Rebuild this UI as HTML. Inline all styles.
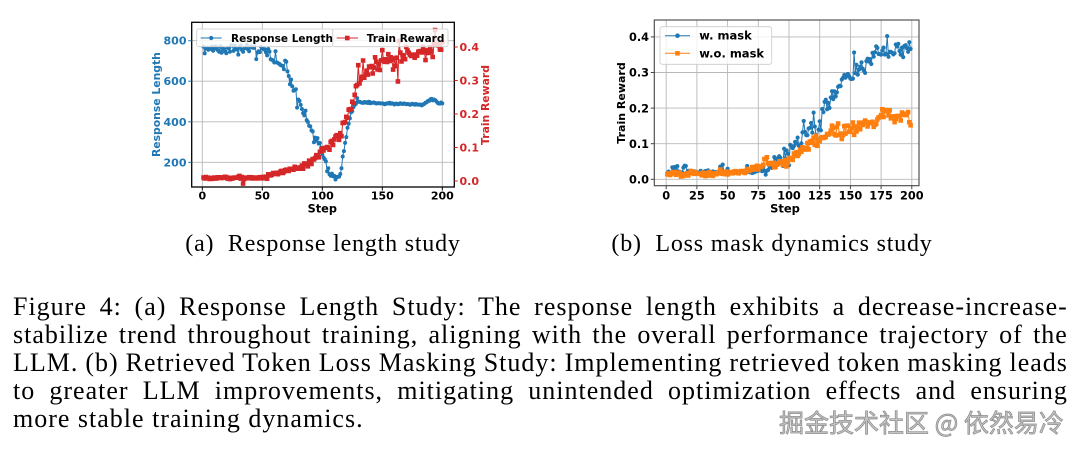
<!DOCTYPE html>
<html><head><meta charset="utf-8">
<style>
html,body{margin:0;padding:0;background:#fff;}
body{width:1080px;height:454px;position:relative;overflow:hidden;}
#c{position:absolute;left:0;top:0;}
.t{font-family:"DejaVu Sans",sans-serif;font-weight:bold;}
#cap{position:absolute;left:13px;top:293.2px;width:1055px;font-family:"Liberation Serif",serif;font-size:26px;line-height:28px;color:#000;letter-spacing:1px;}
#cap div{white-space:nowrap;}
#wm{position:absolute;left:779px;top:407px;font-family:"Noto Sans CJK SC","WenQuanYi Zen Hei",sans-serif;font-size:25px;line-height:30px;color:#c4c4c4;-webkit-text-stroke:0.7px #8a8a8a;white-space:nowrap;}
</style></head>
<body>
<svg id="c" width="1080" height="454" viewBox="0 0 1080 454" xmlns="http://www.w3.org/2000/svg">
<defs>
<clipPath id="cl"><rect x="191.7" y="22.3" width="262.6" height="164.7"/></clipPath>
<clipPath id="cr"><rect x="654.3" y="20" width="264.7" height="165.7"/></clipPath>
</defs>
<!-- LEFT CHART grid -->
<g stroke="#b8b8b8" stroke-width="0.9">
<line x1="202.3" y1="22.3" x2="202.3" y2="187"/>
<line x1="262.3" y1="22.3" x2="262.3" y2="187"/>
<line x1="322.3" y1="22.3" x2="322.3" y2="187"/>
<line x1="382.3" y1="22.3" x2="382.3" y2="187"/>
<line x1="442.3" y1="22.3" x2="442.3" y2="187"/>
<line x1="191.7" y1="40.7" x2="454.3" y2="40.7"/>
<line x1="191.7" y1="81.2" x2="454.3" y2="81.2"/>
<line x1="191.7" y1="121.8" x2="454.3" y2="121.8"/>
<line x1="191.7" y1="162.3" x2="454.3" y2="162.3"/>
</g>
<g id="dL" clip-path="url(#cl)"></g>
<rect x="191.7" y="22.3" width="262.6" height="164.7" fill="none" stroke="#000" stroke-width="1.3"/>
<g stroke="#000" stroke-width="1">
<line x1="202.3" y1="187" x2="202.3" y2="190.5"/><line x1="262.3" y1="187" x2="262.3" y2="190.5"/><line x1="322.3" y1="187" x2="322.3" y2="190.5"/><line x1="382.3" y1="187" x2="382.3" y2="190.5"/><line x1="442.3" y1="187" x2="442.3" y2="190.5"/>
</g>
<g stroke="#1f77b4" stroke-width="1">
<line x1="188.2" y1="40.7" x2="191.7" y2="40.7"/><line x1="188.2" y1="81.2" x2="191.7" y2="81.2"/><line x1="188.2" y1="121.8" x2="191.7" y2="121.8"/><line x1="188.2" y1="162.3" x2="191.7" y2="162.3"/>
</g>
<g stroke="#d62728" stroke-width="1">
<line x1="454.3" y1="181" x2="457.8" y2="181"/><line x1="454.3" y1="147.5" x2="457.8" y2="147.5"/><line x1="454.3" y1="114" x2="457.8" y2="114"/><line x1="454.3" y1="80.5" x2="457.8" y2="80.5"/><line x1="454.3" y1="47" x2="457.8" y2="47"/>
</g>
<g class="t" font-size="11" fill="#1f77b4" text-anchor="end">
<text x="186.5" y="44.7">800</text><text x="186.5" y="85.2">600</text><text x="186.5" y="125.8">400</text><text x="186.5" y="166.3">200</text>
</g>
<g class="t" font-size="11" fill="#d62728" text-anchor="start">
<text x="459.5" y="185">0.0</text><text x="459.5" y="151.5">0.1</text><text x="459.5" y="118">0.2</text><text x="459.5" y="84.5">0.3</text><text x="459.5" y="51">0.4</text>
</g>
<g class="t" font-size="11" fill="#000" text-anchor="middle">
<text x="202.3" y="199.5">0</text><text x="262.3" y="199.5">50</text><text x="322.3" y="199.5">100</text><text x="382.3" y="199.5">150</text><text x="442.3" y="199.5">200</text>
<text x="322.3" y="212.5" font-size="11.3">Step</text>
</g>
<text class="t" font-size="10.8" fill="#1f77b4" text-anchor="middle" transform="translate(160,104.6) rotate(-90)">Response Length</text>
<text class="t" font-size="10.8" fill="#d62728" text-anchor="middle" transform="translate(489,105) rotate(-90)">Train Reward</text>
<!-- left legends -->
<rect x="196.7" y="29" width="136.3" height="17.7" rx="2" fill="#fff" fill-opacity="0.8" stroke="#cccccc" stroke-width="0.8"/>
<line x1="200.7" y1="38" x2="221.7" y2="38" stroke="#1f77b4" stroke-width="1"/>
<circle cx="211.2" cy="38" r="2.1" fill="#1f77b4"/>
<text class="t" x="231" y="41.9" font-size="10.5" fill="#000">Response Length</text>
<rect x="332.7" y="29" width="115.3" height="17.7" rx="2" fill="#fff" fill-opacity="0.8" stroke="#cccccc" stroke-width="0.8"/>
<line x1="336.7" y1="38" x2="358" y2="38" stroke="#d62728" stroke-width="1"/>
<rect x="345" y="35.7" width="4.6" height="4.6" fill="#d62728"/>
<text class="t" x="366.7" y="41.9" font-size="10.5" fill="#000">Train Reward</text>

<!-- RIGHT CHART grid -->
<g stroke="#b8b8b8" stroke-width="0.9">
<line x1="666.2" y1="20" x2="666.2" y2="185.7"/><line x1="696.9" y1="20" x2="696.9" y2="185.7"/><line x1="727.6" y1="20" x2="727.6" y2="185.7"/><line x1="758.3" y1="20" x2="758.3" y2="185.7"/><line x1="789" y1="20" x2="789" y2="185.7"/><line x1="819.7" y1="20" x2="819.7" y2="185.7"/><line x1="850.4" y1="20" x2="850.4" y2="185.7"/><line x1="881.1" y1="20" x2="881.1" y2="185.7"/><line x1="911.8" y1="20" x2="911.8" y2="185.7"/>
<line x1="654.3" y1="179.3" x2="919" y2="179.3"/><line x1="654.3" y1="143.7" x2="919" y2="143.7"/><line x1="654.3" y1="108.1" x2="919" y2="108.1"/><line x1="654.3" y1="72.5" x2="919" y2="72.5"/><line x1="654.3" y1="36.9" x2="919" y2="36.9"/>
</g>
<g id="dR" clip-path="url(#cr)"></g>
<rect x="654.3" y="20" width="264.7" height="165.7" fill="none" stroke="#444" stroke-width="1.1"/>
<g stroke="#444" stroke-width="1">
<line x1="666.2" y1="185.7" x2="666.2" y2="189.2"/><line x1="696.9" y1="185.7" x2="696.9" y2="189.2"/><line x1="727.6" y1="185.7" x2="727.6" y2="189.2"/><line x1="758.3" y1="185.7" x2="758.3" y2="189.2"/><line x1="789" y1="185.7" x2="789" y2="189.2"/><line x1="819.7" y1="185.7" x2="819.7" y2="189.2"/><line x1="850.4" y1="185.7" x2="850.4" y2="189.2"/><line x1="881.1" y1="185.7" x2="881.1" y2="189.2"/><line x1="911.8" y1="185.7" x2="911.8" y2="189.2"/>
<line x1="650.8" y1="179.3" x2="654.3" y2="179.3"/><line x1="650.8" y1="143.7" x2="654.3" y2="143.7"/><line x1="650.8" y1="108.1" x2="654.3" y2="108.1"/><line x1="650.8" y1="72.5" x2="654.3" y2="72.5"/><line x1="650.8" y1="36.9" x2="654.3" y2="36.9"/>
</g>
<g class="t" font-size="11.3" fill="#000" text-anchor="end">
<text x="649" y="183.5">0.0</text><text x="649" y="147.9">0.1</text><text x="649" y="112.3">0.2</text><text x="649" y="76.7">0.3</text><text x="649" y="41.1">0.4</text>
</g>
<g class="t" font-size="11.3" fill="#000" text-anchor="middle">
<text x="666.2" y="199.5">0</text><text x="696.9" y="199.5">25</text><text x="727.6" y="199.5">50</text><text x="758.3" y="199.5">75</text><text x="789" y="199.5">100</text><text x="819.7" y="199.5">125</text><text x="850.4" y="199.5">150</text><text x="881.1" y="199.5">175</text><text x="911.8" y="199.5">200</text>
<text x="785" y="212.5" font-size="11.5">Step</text>
</g>
<text class="t" font-size="11" fill="#000" text-anchor="middle" transform="translate(625,103) rotate(-90)">Train Reward</text>
<!-- right legend -->
<rect x="660" y="26.7" width="111.7" height="37.6" rx="2.5" fill="#fff" fill-opacity="0.8" stroke="#cccccc" stroke-width="0.8"/>
<line x1="665" y1="35.7" x2="690" y2="35.7" stroke="#1f77b4" stroke-width="1"/>
<circle cx="677.5" cy="35.7" r="2.3" fill="#1f77b4"/>
<text class="t" x="699.3" y="39.7" font-size="11.5" fill="#000">w. mask</text>
<line x1="665" y1="53.3" x2="690" y2="53.3" stroke="#ff7f0e" stroke-width="1"/>
<rect x="675.2" y="51" width="4.6" height="4.6" fill="#ff7f0e"/>
<text class="t" x="699.3" y="57.3" font-size="11.5" fill="#000">w.o. mask</text>

<!-- subcaptions -->
<text x="323" y="251" font-family="Liberation Serif, serif" font-size="24" letter-spacing="0.8" text-anchor="middle" fill="#000">(a)&#160; Response length study</text>
<text x="772" y="251" font-family="Liberation Serif, serif" font-size="24" letter-spacing="0.8" text-anchor="middle" fill="#000">(b)&#160; Loss mask dynamics study</text>
</svg>

<div id="cap">
<div class="j"><span>Figure 4: (a) Response Length Study: The response length exhibits a decrease-increase-</span></div>
<div class="j"><span>stabilize trend throughout training, aligning with the overall performance trajectory of the</span></div>
<div class="j"><span>LLM. (b) Retrieved Token Loss Masking Study: Implementing retrieved token masking leads</span></div>
<div class="j"><span>to greater LLM improvements, mitigating unintended optimization effects and ensuring</span></div>
<div><span>more stable training dynamics.</span></div>
</div>
<div id="wm">掘金技术社区 @ 依然易冷</div>

<script>
(function(){
var NS='http://www.w3.org/2000/svg';
function rng(seed){var s=seed>>>0;return function(){s=(Math.imul(s,1664525)+1013904223)>>>0;return s/4294967296;};}
function interp(p,x){if(x<=p[0][0])return p[0][1];for(var i=0;i<p.length-1;i++){if(x<=p[i+1][0]){var a=p[i],b=p[i+1];return a[1]+(b[1]-a[1])*(x-a[0])/(b[0]-a[0]);}}return p[p.length-1][1];}
function series(seed,n,trend,amp,op,om,upOnly){var r=rng(seed);var out=[];for(var s=1;s<=n;s++){var v=interp(trend,s)+amp(s)*(r()+r()+r()-1.5)/1.5;if(r()<op(s)){var k=r();v+=om(s)*(upOnly&&upOnly(s)?(0.5+0.5*k):(k*2-1));}out.push([s,v]);}return out;}
function draw(g,pts,xm,ym,color,shape,sz){
 var d='';pts.forEach(function(p,i){d+=(i?'L':'M')+xm(p[0]).toFixed(1)+' '+ym(p[1]).toFixed(1);});
 var line=document.createElementNS(NS,'path');line.setAttribute('d',d);line.setAttribute('fill','none');line.setAttribute('stroke',color);line.setAttribute('stroke-width','1');g.appendChild(line);
 var m='';pts.forEach(function(p){var x=xm(p[0]),y=ym(p[1]);
  if(shape==='o'){m+='M'+(x-sz).toFixed(1)+' '+y.toFixed(1)+'a'+sz+' '+sz+' 0 1 0 '+(2*sz)+' 0a'+sz+' '+sz+' 0 1 0 '+(-2*sz)+' 0z';}
  else{m+='M'+(x-sz).toFixed(1)+' '+(y-sz).toFixed(1)+'h'+(2*sz)+'v'+(2*sz)+'h'+(-2*sz)+'z';}});
 var mk=document.createElementNS(NS,'path');mk.setAttribute('d',m);mk.setAttribute('fill',color);g.appendChild(mk);}

// LEFT
var xL=function(s){return 202.3+1.2*s;};
var yLL=function(v){return 40.7+(800-v)*0.20267;};
var yLR=function(v){return 181-335*v;};
var blueT=[[0,765],[50,758],[55,729],[60,696],[65,680],[70,647],[73,606],[77,557],[80,516],[83,466],[86,417],[90,368],[93,327],[96,302],[99,269],[102,220],[105,170],[108,137],[111,121],[114,129],[116,162],[118,269],[120,335],[123,417],[126,474],[129,500],[132,495],[150,490],[175,486],[183,483],[188,500],[190,510],[193,508],[197,494],[200,490]];
var redT=[[0,0.009],[45,0.009],[50,0.012],[60,0.019],[70,0.032],[80,0.04],[88,0.052],[95,0.072],[100,0.092],[105,0.107],[110,0.122],[115,0.132],[118,0.167],[121,0.197],[124,0.23],[127,0.257],[130,0.3],[135,0.315],[140,0.34],[150,0.358],[160,0.365],[170,0.372],[180,0.385],[190,0.385],[200,0.40]];
var blue=series(11,200,blueT,function(s){return s<55?42:(s<130?26:6);},function(s){return s<125?0.14:0.02;},function(s){return s<125?55:10;});
var red=series(7,200,redT,function(s){return s<85?0.008:(s<130?0.026:0.034);},function(s){return s>128?0.14:0.04;},function(s){return s>128?0.06:0.015;});
var gL=document.getElementById('dL');
draw(gL,blue,xL,yLL,'#1f77b4','o',2);
draw(gL,red,xL,yLR,'#d62728','s',2.3);

// RIGHT
var xR=function(s){return 666.2+1.228*s;};
var yR=function(v){return 179.3-356*v;};
var wT=[[0,0.02],[75,0.021],[80,0.03],[90,0.049],[95,0.07],[100,0.085],[105,0.1],[110,0.114],[115,0.128],[120,0.14],[125,0.142],[127,0.185],[130,0.19],[135,0.228],[140,0.248],[143,0.28],[150,0.29],[155,0.305],[160,0.31],[165,0.33],[170,0.36],[175,0.35],[180,0.355],[185,0.365],[190,0.367],[195,0.358],[199,0.375]];
var oT=[[0,0.016],[50,0.018],[60,0.021],[75,0.033],[90,0.044],[100,0.049],[105,0.07],[110,0.085],[115,0.09],[120,0.1],[125,0.11],[130,0.122],[135,0.136],[140,0.14],[150,0.14],[155,0.145],[160,0.155],[165,0.16],[170,0.162],[175,0.18],[178,0.2],[180,0.19],[185,0.175],[190,0.178],[195,0.18],[197,0.185],[199,0.152]];
var w=series(23,199,wT,function(s){return s<80?0.008:0.034;},function(s){return s<80?0.08:0.1;},function(s){return s<80?0.022:0.05;},function(s){return s<80;});
var o=series(5,199,oT,function(s){return s<80?0.011:0.026;},function(s){return 0.06;},function(s){return s<80?0.012:0.03;});
var gR=document.getElementById('dR');
draw(gR,w,xR,yR,'#1f77b4','o',2.1);
draw(gR,o,xR,yR,'#ff7f0e','s',2.3);

// caption justification
var W=1055;
document.querySelectorAll('#cap .j').forEach(function(d){
 var sp=d.querySelector('span');var n=(sp.textContent.match(/[ \u00a0]/g)||[]).length;
 var wd=sp.getBoundingClientRect().width;
 if(n>0){d.style.wordSpacing=((W-wd)/n-0.01).toFixed(2)+'px';}
});
})();
</script>
</body></html>
